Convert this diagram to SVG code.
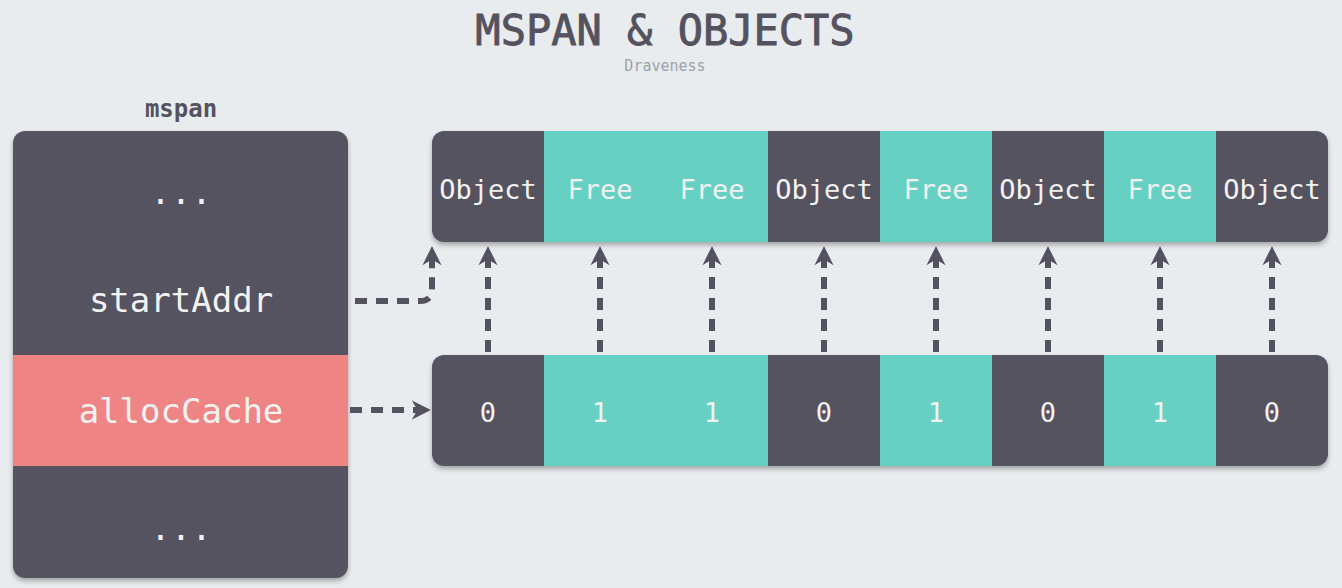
<svg xmlns="http://www.w3.org/2000/svg" width="1342" height="588" viewBox="0 0 1342 588">
<defs>
<filter id="sh" x="-10%" y="-10%" width="120%" height="130%">
<feDropShadow dx="0" dy="3" stdDeviation="2.5" flood-color="#000" flood-opacity="0.3"/>
</filter>
<clipPath id="cm"><rect x="13" y="131" width="335" height="447" rx="12"/></clipPath>
<clipPath id="ct"><rect x="432" y="131" width="896" height="111" rx="12"/></clipPath>
<clipPath id="cb"><rect x="432" y="355" width="896" height="111" rx="12"/></clipPath>
<marker id="ah" viewBox="0 0 10 10" refX="9" refY="5" markerWidth="3.2" markerHeight="3.2" orient="auto" markerUnits="strokeWidth">
<path d="M0,0 L10,5 L0,10 L3,5 Z" fill="#55525f"/>
</marker>
</defs>
<style>
.t{font-family:"DejaVu Sans Mono","Liberation Mono",monospace;text-anchor:middle;dominant-baseline:central}
.w{fill:#f2f2f2}
.d{fill:#55525f}
.g{fill:#66d1c2}
.c{fill:none;stroke:#55525f;stroke-width:6;stroke-dasharray:12 9}
</style>
<rect width="1342" height="588" fill="#e9ecef"/>
<text class="t" x="665" y="30" font-size="42" fill="#55525f" stroke="#55525f" stroke-width="0.9">MSPAN &amp; OBJECTS</text>
<text class="t" x="665" y="66" font-size="15" fill="#9aa3a8">Draveness</text>
<text class="t" x="181" y="109" font-size="24" font-weight="bold" fill="#55525f">mspan</text>
<g id="mspan">
<g filter="url(#sh)"><rect x="13" y="131" width="335" height="447" rx="12" class="d"/></g>
<g clip-path="url(#cm)">
<rect x="13" y="355" width="335" height="111" fill="#ee8584"/>
</g>
<text class="t w" x="181" y="192" font-size="34">...</text>
<text class="t w" x="181" y="300" font-size="34">startAddr</text>
<text class="t w" x="181" y="411" font-size="34">allocCache</text>
<text class="t w" x="181" y="528" font-size="34">...</text>
</g>
<g id="objects">
<g filter="url(#sh)"><rect x="432" y="131" width="896" height="111" rx="12" class="d"/></g>
<g clip-path="url(#ct)">
<rect x="544" y="131" width="224" height="111" class="g"/>
<rect x="880" y="131" width="112" height="111" class="g"/>
<rect x="1104" y="131" width="112" height="111" class="g"/>
</g>
<text class="t w" x="488" y="189" font-size="27">Object</text>
<text class="t w" x="600" y="189" font-size="27">Free</text>
<text class="t w" x="712" y="189" font-size="27">Free</text>
<text class="t w" x="824" y="189" font-size="27">Object</text>
<text class="t w" x="936" y="189" font-size="27">Free</text>
<text class="t w" x="1048" y="189" font-size="27">Object</text>
<text class="t w" x="1160" y="189" font-size="27">Free</text>
<text class="t w" x="1272" y="189" font-size="27">Object</text>
</g>
<g id="bitmap">
<g filter="url(#sh)"><rect x="432" y="355" width="896" height="111" rx="12" class="d"/></g>
<g clip-path="url(#cb)">
<rect x="544" y="355" width="224" height="111" class="g"/>
<rect x="880" y="355" width="112" height="111" class="g"/>
<rect x="1104" y="355" width="112" height="111" class="g"/>
</g>
<text class="t w" x="488" y="412" font-size="27">0</text>
<text class="t w" x="600" y="412" font-size="27">1</text>
<text class="t w" x="712" y="412" font-size="27">1</text>
<text class="t w" x="824" y="412" font-size="27">0</text>
<text class="t w" x="936" y="412" font-size="27">1</text>
<text class="t w" x="1048" y="412" font-size="27">0</text>
<text class="t w" x="1160" y="412" font-size="27">1</text>
<text class="t w" x="1272" y="412" font-size="27">0</text>
</g>
<g id="connectors">
<path class="c" d="M355,301 L420,301 Q432,301 432,289 L432,248" marker-end="url(#ah)"/>
<path class="c" d="M350,410 L429,410" marker-end="url(#ah)"/>
<path class="c" d="M488,352 L488,248" marker-end="url(#ah)"/>
<path class="c" d="M600,352 L600,248" marker-end="url(#ah)"/>
<path class="c" d="M712,352 L712,248" marker-end="url(#ah)"/>
<path class="c" d="M824,352 L824,248" marker-end="url(#ah)"/>
<path class="c" d="M936,352 L936,248" marker-end="url(#ah)"/>
<path class="c" d="M1048,352 L1048,248" marker-end="url(#ah)"/>
<path class="c" d="M1160,352 L1160,248" marker-end="url(#ah)"/>
<path class="c" d="M1272,352 L1272,248" marker-end="url(#ah)"/>
</g>
</svg>
